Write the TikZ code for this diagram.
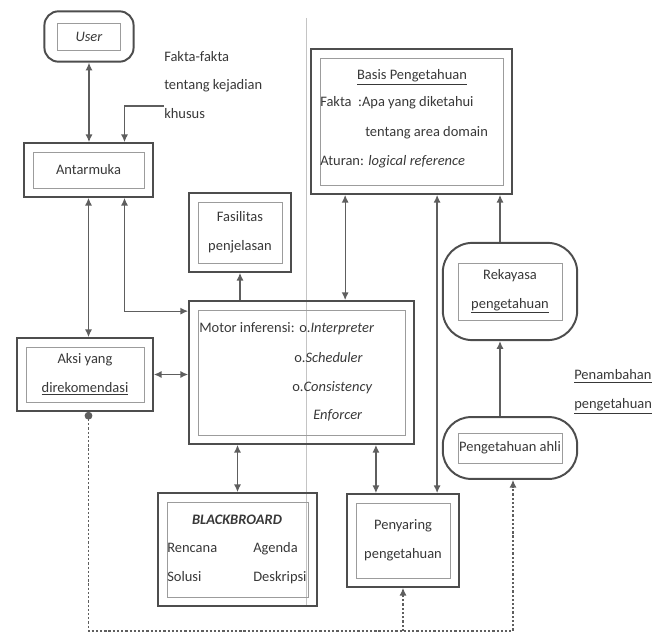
\documentclass[tikz,border=0pt]{standalone}
\usepackage{fontspec}
\setmainfont{Carlito}
\usepackage{xcolor}
\usepackage{tikz}
\usetikzlibrary{fit,arrows.meta}
\definecolor{lineg}{HTML}{4D4D4D}
\definecolor{linkg}{HTML}{5E5E5E}
\definecolor{innerg}{HTML}{9C9C9C}
\definecolor{textg}{HTML}{383838}

\begin{document}
\begin{tikzpicture}[x=0.025cm, y=-0.025cm, >={Latex[length=5.5pt,width=5pt]},
  every node/.style={font=\fontsize{10.3}{20.5}\selectfont, text=textg},
  inbox/.style={draw=innerg, line width=0.6pt, inner sep=0pt, align=center},
  outbox/.style={draw=lineg, line width=1.4pt, inner sep=6pt},
  roundbox/.style={outbox, rounded corners=#1},
  txt/.style={inner sep=0pt},
  link/.style={draw=linkg, line width=0.9pt},
  dotlink/.style={link, dash pattern=on 1.6pt off 1.4pt}]

\useasboundingbox (0,0) rectangle (662,636);
\draw[innerg!60, line width=0.5pt] (306,18) -- (306,606);

\node(USER)       [inbox, minimum width=1.575cm, minimum height=0.675cm] at (89,36.5)    {\textit{User}};
\node(USERBOX)    [roundbox=10pt, inner xsep=9pt, inner ysep=8pt, fit=(USER)] {};
\node(KEJADIAN)   [txt, anchor=west, align=left] at (164,85) {Fakta-fakta\\tentang kejadian\\khusus};

\node(ANTAR)      [inbox, minimum width=2.775cm, minimum height=0.9cm]   at (88.5,170)   {Antarmuka};
\node(ANTARBOX)   [outbox, fit=(ANTAR)] {};

\node(FAS)        [inbox, minimum width=2.1cm, minimum height=1.525cm]   at (240,232.5)  {Fasilitas\\penjelasan};
\node(FASBOX)     [outbox, fit=(FAS)] {};

\node(BASIS)      [inbox, minimum width=4.575cm, minimum height=3.175cm] at (411.5,121.5) {};
\node(BASISBOX)   [outbox, fit=(BASIS)] {};
\node(JUDUL)      [txt, anchor=base]      at (412,80)  {\underline{Basis Pengetahuan}};
\node(FAKTA)      [txt, anchor=base west] at (320,107) {Fakta\ \ :Apa yang diketahui};
\node(DOMAIN)     [txt, anchor=base west] at (365,137) {tentang area domain};
\node(ATURAN)     [txt, anchor=base west] at (320,166) {Aturan: \textit{logical reference}};

\node(MOTOR)      [inbox, minimum width=5.175cm, minimum height=3.125cm] at (301.5,372.5) {};
\node(MOTORBOX)   [outbox, fit=(MOTOR)] {};
\node(INFERENSI)  [txt, anchor=base west] at (199,332) {Motor inferensi:};
\node(INTERP)     [txt, anchor=base west] at (299,332) {o.\textit{Interpreter}};
\node(SCHED)      [txt, anchor=base west] at (294,362) {o.\textit{Scheduler}};
\node(CONSIST)    [txt, anchor=base west] at (292,391) {o.\textit{Consistency}};
\node(ENFORCE)    [txt, anchor=base west] at (313,419) {\textit{Enforcer}};

\node(AKSI)       [inbox, minimum width=2.95cm, minimum height=1.375cm]  at (85,374.5)   {Aksi yang\\\underline{direkomendasi}};
\node(AKSIBOX)    [outbox, fit=(AKSI)] {};

\node(REK)        [inbox, minimum width=2.6cm, minimum height=1.425cm]   at (510,291.5)  {Rekayasa\\\underline{pengetahuan}};
\node(REKBOX)     [roundbox=21pt, inner xsep=10.5pt, inner ysep=14pt, fit=(REK)] {};

\node(AHLI)       [inbox, minimum width=2.6cm, minimum height=0.75cm]    at (510,448)    {Pengetahuan ahli};
\node(AHLIBOX)    [roundbox=20pt, inner xsep=10.5pt, inner ysep=11pt, fit=(AHLI)] {};
\node(TAMBAH)     [txt, anchor=west, align=left] at (574,392) {\underline{Penambahan}\\\underline{pengetahuan}};

\node(BB)         [inbox, minimum width=3.525cm, minimum height=2.375cm] at (237.5,549.5) {};
\node(BBBOX)      [outbox, fit=(BB)] {};
\node(BBJUDUL)    [txt, anchor=base]      at (237,524) {\textbf{\textit{BLACKBROARD}}};
\node(RENCANA)    [txt, anchor=base west] at (167,552) {Rencana};
\node(AGENDA)     [txt, anchor=base west] at (253,552) {Agenda};
\node(SOLUSI)     [txt, anchor=base west] at (167,581) {Solusi};
\node(DESKRIPSI)  [txt, anchor=base west] at (253,581) {Deskripsi};

\node(PENY)       [inbox, minimum width=2.35cm, minimum height=1.875cm]  at (403,540.5)  {Penyaring\\pengetahuan};
\node(PENYBOX)    [outbox, fit=(PENY)] {};

\coordinate(LOW) at (0,631);
\coordinate(BM)  at ([xshift=0.875cm]BASISBOX.south west);
\coordinate(BP)  at ([xshift=0.64cm]BASISBOX.south);
\coordinate(MP)  at ([xshift=1.86cm]MOTORBOX.south);
\coordinate(RB)  at ([xshift=-0.25cm]REKBOX.north);
\coordinate(DA)  at (AKSIBOX.south -| ANTARBOX.south);

\draw[link,<->] (USERBOX.south) -- (USERBOX.south |- ANTARBOX.north);
\draw[link,->]  ([yshift=-0.525cm]KEJADIAN.west) -| ([xshift=0.9cm]ANTARBOX.north);
\draw[link,<->] (ANTARBOX.south) -- (ANTARBOX.south |- AKSIBOX.north);
\draw[link,<->] ([xshift=0.9cm]ANTARBOX.south) |- ([yshift=-0.275cm]MOTORBOX.north west);
\draw[link,->]  (MOTORBOX.north -| FASBOX.south) -- (FASBOX.south);
\draw[link,<->] (AKSIBOX.east) -- (AKSIBOX.east -| MOTORBOX.west);
\draw[link,<->] (BM) -- (BM |- MOTORBOX.north);
\draw[link,<->] (BP) -- (BP |- PENYBOX.north);
\draw[link,<->] (MP) -- (MP |- PENYBOX.north);
\draw[link,<->] (BBBOX.north |- MOTORBOX.south) -- (BBBOX.north);
\draw[link,->]  (RB) -- (RB |- BASISBOX.south);
\draw[link,->]  ([xshift=-0.25cm]AHLIBOX.north) -- ([xshift=-0.25cm]REKBOX.south);
\draw[dotlink,{Circle[length=5.5pt]}->] (DA) -- (DA |- LOW) -| ([xshift=0.075cm]AHLIBOX.south);
\draw[dotlink,->] (PENYBOX.south |- LOW) -- (PENYBOX.south);
\end{tikzpicture}
\end{document}
